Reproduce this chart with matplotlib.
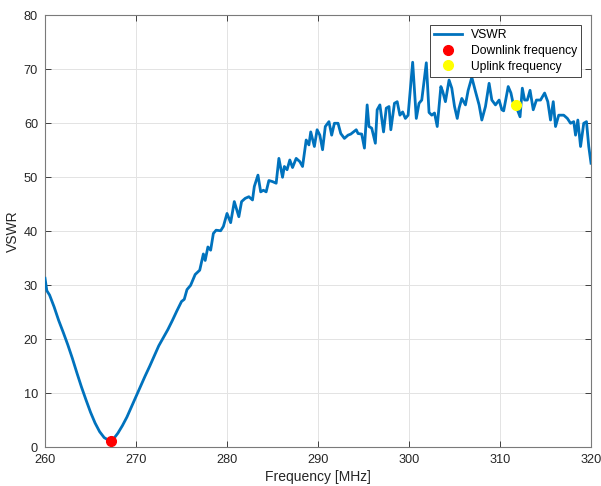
import matplotlib
matplotlib.use("Agg")
import matplotlib.pyplot as plt

plt.rcParams['font.family'] = ['Liberation Sans', 'DejaVu Sans']

# Measured VSWR sweep
freq_mhz = [
    260.0, 260.2, 260.5, 261.0, 261.5, 262.0, 262.5, 263.0, 263.5, 264.0,
    264.5, 265.0, 265.5, 266.0, 266.5, 267.0, 267.2, 267.5, 268.0, 268.5,
    269.0, 269.5, 270.0, 270.5, 271.0, 271.5, 272.0, 272.5, 273.0, 273.5,
    274.0, 274.5, 275.0, 275.3, 275.6, 276.0, 276.5, 277.0, 277.4, 277.6,
    277.9, 278.2, 278.5, 278.8, 279.3, 279.6, 280.0, 280.4, 280.8, 281.3,
    281.6, 282.0, 282.4, 282.8, 283.0, 283.4, 283.7, 284.0, 284.3, 284.6,
    285.0, 285.4, 285.7, 286.1, 286.3, 286.6, 286.9, 287.2, 287.6, 288.0,
    288.3, 288.7, 289.0, 289.2, 289.6, 289.9, 290.2, 290.5, 290.8, 291.2,
    291.5, 291.8, 292.2, 292.5, 292.9, 293.3, 293.6, 294.2, 294.4, 294.8,
    295.1, 295.4, 295.6, 295.9, 296.3, 296.5, 296.8, 297.2, 297.5, 297.8,
    298.0, 298.4, 298.7, 299.0, 299.3, 299.6, 299.9, 300.4, 300.8, 301.1,
    301.4, 301.9, 302.2, 302.5, 302.8, 303.1, 303.5, 303.7, 304.0, 304.4,
    304.7, 305.0, 305.3, 305.5, 305.8, 306.2, 306.5, 306.9, 307.3, 307.7,
    308.0, 308.4, 308.8, 309.1, 309.5, 309.9, 310.2, 310.4, 310.9, 311.2,
    311.4, 311.8, 312.2, 312.45, 312.7, 313.0, 313.3, 313.65, 314.0, 314.45,
    314.9, 315.25, 315.55, 315.85, 316.1, 316.45, 317.0, 317.4, 317.75, 318.1,
    318.3, 318.55, 318.85, 319.2, 319.5, 319.75, 320.0,
]
vswr = [
    31.3, 29.0, 28.2, 26.0, 23.5, 21.3, 19.0, 16.5, 13.8, 11.2,
    8.8, 6.5, 4.5, 2.9, 1.8, 1.3, 1.2, 1.5, 2.6, 4.0,
    5.6, 7.5, 9.4, 11.3, 13.2, 15.0, 16.9, 18.8, 20.3, 21.8,
    23.5, 25.3, 27.0, 27.4, 29.2, 30.0, 32.0, 32.8, 35.8, 34.6,
    37.1, 36.5, 39.6, 40.2, 40.1, 40.9, 43.3, 41.6, 45.5, 42.7,
    45.5, 46.1, 46.4, 45.8, 48.3, 50.4, 47.3, 47.6, 47.3, 49.4,
    49.2, 48.9, 53.5, 50.0, 52.0, 51.4, 53.2, 51.8, 53.5, 52.9,
    52.0, 56.9, 56.0, 58.4, 55.7, 58.8, 57.8, 55.1, 59.4, 60.3,
    57.8, 60.0, 60.0, 58.1, 57.2, 57.8, 58.0, 58.8, 58.1, 58.0,
    55.4, 63.4, 59.4, 59.1, 56.3, 62.5, 63.4, 58.4, 62.8, 63.1,
    58.8, 63.7, 64.0, 61.5, 62.1, 60.9, 61.5, 71.3, 60.9, 63.7,
    64.3, 71.2, 62.0, 61.5, 61.9, 59.4, 66.8, 65.9, 64.0, 68.0,
    66.5, 63.1, 60.9, 62.8, 64.6, 63.4, 66.1, 68.5, 65.9, 63.4,
    60.6, 63.1, 67.4, 64.3, 63.4, 64.3, 62.5, 62.3, 66.8, 65.6,
    64.0, 63.0, 61.2, 66.5, 64.3, 64.3, 66.1, 62.5, 64.3, 64.3,
    65.6, 64.0, 60.6, 64.0, 59.4, 61.5, 61.5, 60.9, 60.0, 60.3,
    57.8, 60.6, 55.7, 60.0, 60.3, 55.7, 52.6,
]

downlink_freq = [267.2]
downlink_vswr = [1.2]
uplink_freq = [311.8]
uplink_vswr = [63.4]

fig = plt.figure(figsize=(6.01, 4.86), dpi=100)
ax = fig.add_axes([0.0749, 0.0796, 0.9085, 0.889])

ax.plot(freq_mhz, vswr, color='#0072BD', linewidth=2.0, label='VSWR', zorder=3)
ax.plot(downlink_freq, downlink_vswr, linestyle='none', marker='o', markersize=7,
        color='#FF0000', label='Downlink frequency', zorder=4)
ax.plot(uplink_freq, uplink_vswr, linestyle='none', marker='o', markersize=7,
        color='#FFFF00', label='Uplink frequency', zorder=4)

ax.set_xlim(260, 320)
ax.set_ylim(0, 80)
ax.set_xticks(range(260, 321, 10))
ax.set_yticks(range(0, 81, 10))
ax.grid(True, color='#e3e3e3', linewidth=0.7)
ax.set_axisbelow(True)
ax.tick_params(direction='in', length=4, width=0.6, colors='#262626',
               labelsize=9.2, top=True, right=True, pad=5)
for s in ax.spines.values():
    s.set_color('#7a7a7a')
    s.set_linewidth(0.8)

ax.set_xlabel('Frequency [MHz]', fontsize=10, color='#262626', labelpad=3)
ax.set_ylabel('VSWR', fontsize=10, color='#262626', labelpad=3)

leg = ax.legend(loc='upper right', bbox_to_anchor=(0.982, 0.977), borderaxespad=0,
                fontsize=8.7, fancybox=False, framealpha=1, edgecolor='#262626',
                handlelength=2.3, handletextpad=0.7, borderpad=0.35, labelspacing=0.3)
leg.get_frame().set_linewidth(0.6)

fig.savefig('out.png', dpi=100)
